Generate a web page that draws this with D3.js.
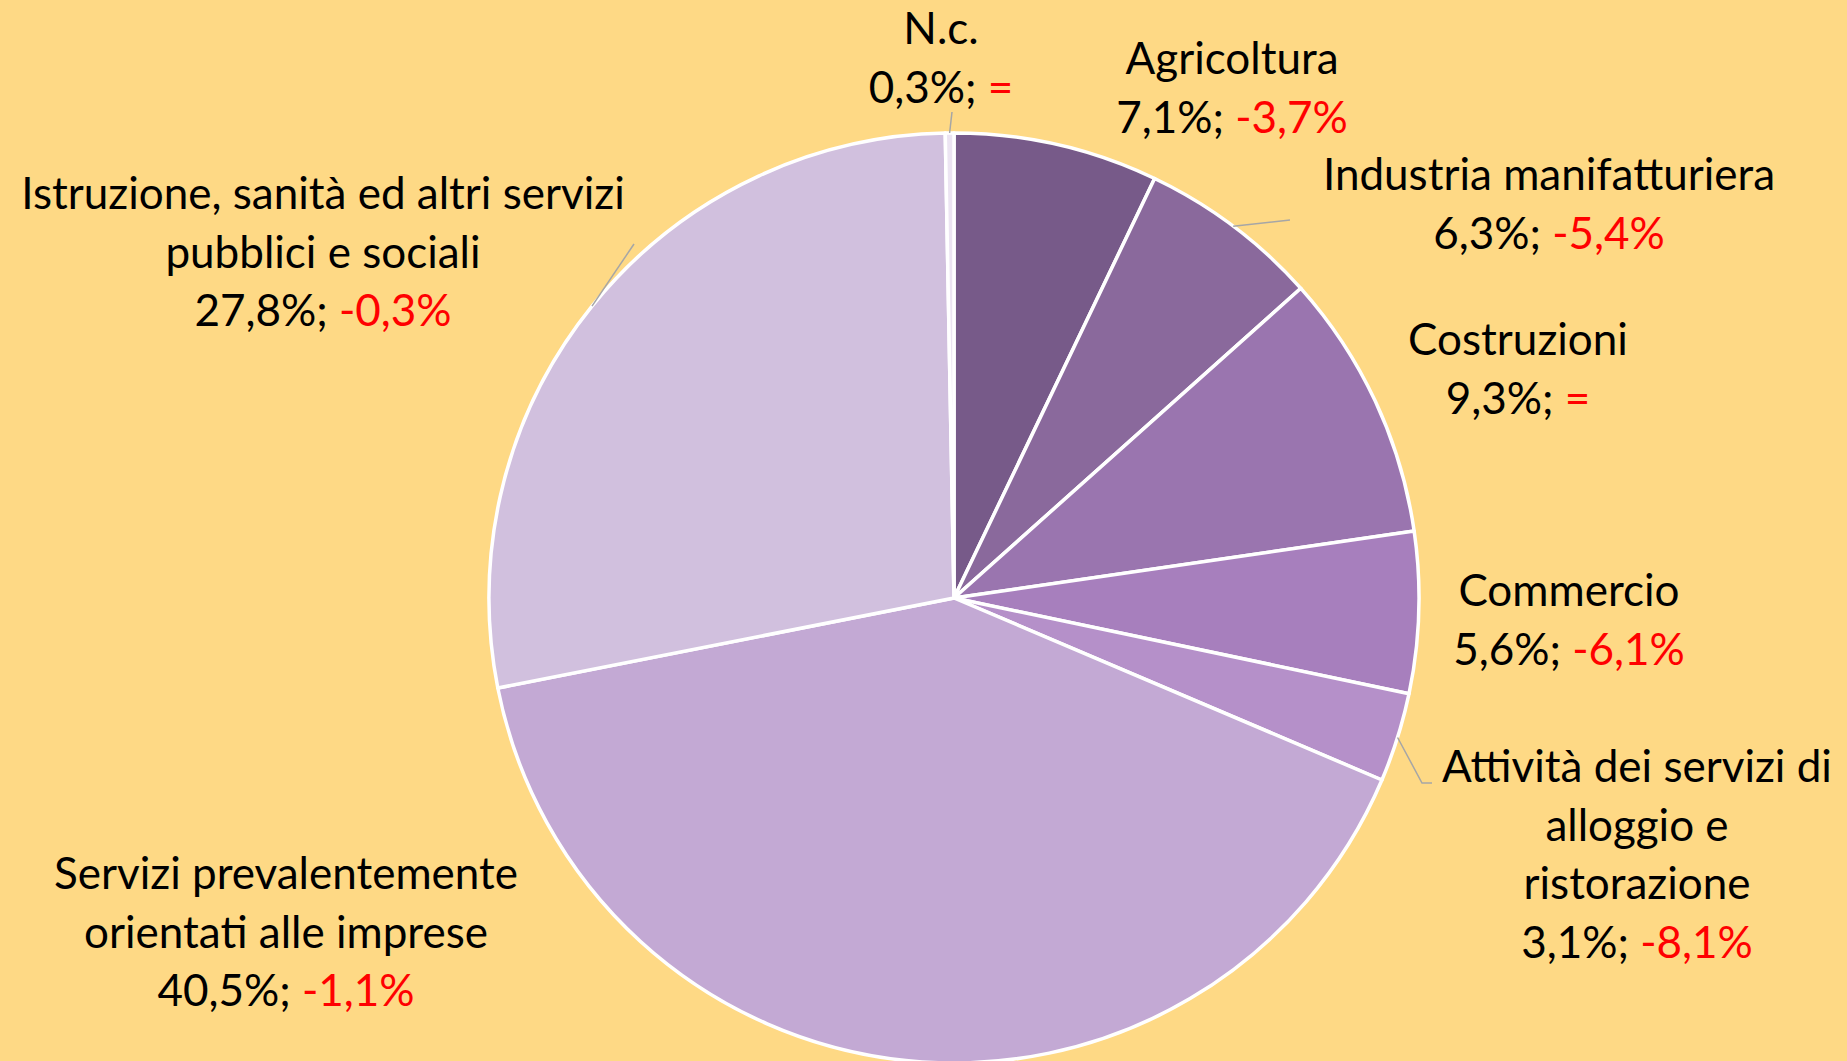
<!DOCTYPE html>
<html>
<head>
<meta charset="utf-8">
<script src="https://cdn.jsdelivr.net/npm/d3@7"></script>
<style>
  html, body { margin: 0; padding: 0; background: #fed985; }
  svg { display: block; }
  text { font-family: Lato, "Open Sans", sans-serif; }
</style>
</head>
<body>
<div id="chart"></div>
<script>
// settori, quota % e variazione %
var sectors = ["Agricoltura", "Industria manifatturiera", "Costruzioni", "Commercio",
    "Attività dei servizi di alloggio e ristorazione",
    "Servizi prevalentemente orientati alle imprese",
    "Istruzione, sanità ed altri servizi pubblici e sociali", "N.c."];
var shares = [7.1, 6.3, 9.3, 5.6, 3.1, 40.5, 27.8, 0.3];
var changes = [-3.7, -5.4, 0, -6.1, -8.1, -1.1, -0.3, 0];
var sliceColors = ["#775a89", "#8a699c", "#9a75af", "#a77fbd", "#b590c9", "#c3a9d4", "#d1c0de", "#ece4f2"];

// label lines (how the text wraps) and layout
var labelLines = [
    ["Agricoltura"],
    ["Industria manifatturiera"],
    ["Costruzioni"],
    ["Commercio"],
    ["Attività dei servizi di", "alloggio e", "ristorazione"],
    ["Servizi prevalentemente", "orientati alle imprese"],
    ["Istruzione, sanità ed altri servizi", "pubblici e sociali"],
    ["N.c."]
];
var labelPos = [[1232, 57], [1549, 173], [1518, 338], [1569, 589], [1637, 765], [286, 872], [323, 192], [941, 27]];
// leader line end points, null = none
var leaderEnds = [null, [[1290, 220]], null, null, [[1422, 783], [1432, 783]], null, [[634, 244]], [[952, 112]]];

var width = 1847, height = 1061
var cx = 954, cy = 598, radius = 465
var lineH = 58.5

var it = d3.formatLocale({decimal: ",", thousands: ".", grouping: [3], currency: ["€", ""], minus: "-"})
var fmt = it.format(".1f")

var svg = d3.select("#chart").append("svg")
    .attr("width", width).attr("height", height)

svg.append("rect").attr("width", width).attr("height", height).attr("fill", "#fed985")

var data = sectors.map(function(s, i) {
    return {name: s, share: shares[i], change: changes[i], i: i}
})

var pie = d3.pie().sort(null).value(function(d) { return d.share })
var arc = d3.arc().innerRadius(0).outerRadius(radius)

var g = svg.append("g").attr("transform", "translate(" + cx + "," + cy + ")")

var arcs = pie(data)

g.selectAll("path.slice")
    .data(arcs)
    .enter().append("path")
    .attr("class", "slice")
    .attr("d", arc)
    .attr("fill", function(d) { return sliceColors[d.data.i] })
    .attr("stroke", "#ffffff")
    .attr("stroke-width", 3.5)
    .attr("stroke-linejoin", "round")

// leader lines from the slice edge
arcs.forEach(function(d) {
    var ends = leaderEnds[d.data.i]
    if (!ends) return
    var a = (d.startAngle + d.endAngle) / 2
    var pts = [[cx + Math.sin(a) * radius, cy - Math.cos(a) * radius]].concat(ends)
    svg.append("path")
        .attr("d", d3.line()(pts))
        .attr("fill", "none")
        .attr("stroke", "#a6a6a6")
        .attr("stroke-width", 1.5)
})

// labels
var labels = svg.selectAll("text.label")
    .data(data)
    .enter().append("text")
    .attr("class", "label")
    .attr("text-anchor", "middle")
    .attr("font-size", 44)
    .attr("fill", "#000")

labels.each(function(d) {
    var t = d3.select(this)
    var pos = labelPos[d.i]
    var lines = labelLines[d.i]
    lines.forEach(function(l, k) {
        t.append("tspan")
            .attr("x", pos[0])
            .attr("y", pos[1] + k * lineH)
            .attr("dominant-baseline", "central")
            .text(l)
    })
    var last = t.append("tspan")
        .attr("x", pos[0])
        .attr("y", pos[1] + lines.length * lineH)
        .attr("dominant-baseline", "central")
    last.append("tspan").text(fmt(d.share) + "%; ")
    last.append("tspan")
        .attr("fill", "#ff0000")
        .text(d.change === 0 ? "=" : fmt(d.change) + "%")
})
</script>
</body>
</html>
